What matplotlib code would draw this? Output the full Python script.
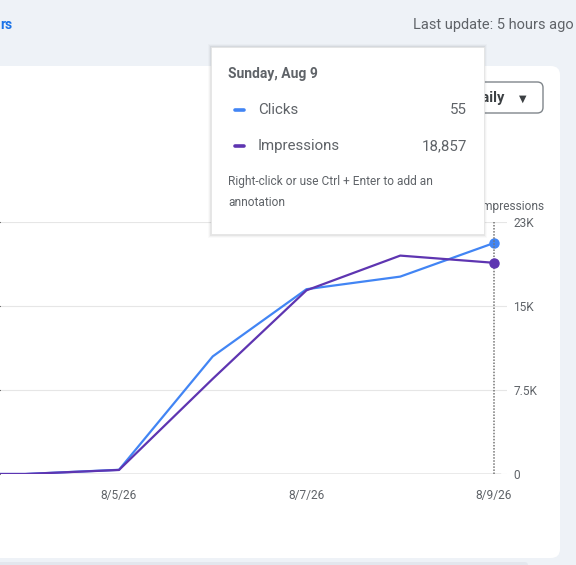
import matplotlib.pyplot as plt
from matplotlib.patches import FancyBboxPatch, Rectangle
from matplotlib.lines import Line2D

plt.rcParams['font.family'] = ['Roboto', 'DejaVu Sans']

# data
dates = ['8/3/26', '8/4/26', '8/5/26', '8/6/26', '8/7/26', '8/8/26', '8/9/26']
clicks = [0, 0, 1, 28, 44, 47, 55]
impressions = [0, 0, 360, 8500, 16400, 19500, 18857]
imp_ticks = [0, 7500, 15000, 22500]
imp_tick_labels = ['0', '7.5K', '15K', '23K']
click_ticks = [0, 20, 40, 60]
shown_dates = ['8/5/26', '8/7/26', '8/9/26']

W, H = 576, 565
BLUE = '#4285f4'
PURPLE = '#5e35b1'
GREY_TXT = '#5f6368'


def fx(x):
    return x / W


def fy(y):
    return 1 - y / H


fig = plt.figure(figsize=(W / 100, H / 100), dpi=100)
fig.patch.set_facecolor('#eef2f7')

# white card behind the chart
card = FancyBboxPatch((fx(-20), fy(558)), fx(580), fy(66) - fy(558),
                      boxstyle='round,pad=0,rounding_size=0.016',
                      transform=fig.transFigure, facecolor='white',
                      edgecolor='none', zorder=-2)
fig.patches.append(card)
# edge of the next card at the bottom
fig.patches.append(FancyBboxPatch((fx(-20), fy(568)), fx(548), fy(562) - fy(568),
                                  boxstyle='round,pad=0,rounding_size=0.006',
                                  transform=fig.transFigure, facecolor='#e3e7ee',
                                  edgecolor='none', zorder=-1))

# header texts
fig.text(fx(0), fy(25), 'rs', color='#1a73e8', fontsize=10, fontweight='bold',
         ha='left', va='center')
fig.text(fx(574), fy(25), 'Last update: 5 hours ago', color=GREY_TXT, fontsize=10.5,
         ha='right', va='center')

# chart axes
ax = fig.add_axes([fx(0), fy(474), fx(507), fy(222) - fy(474)])
ax.set_facecolor('none')
x = list(range(len(dates)))
ax.plot(x, clicks, color=BLUE, lw=1.6, solid_capstyle='round', zorder=3)
ax.plot(x[-1], clicks[-1], 'o', color=BLUE, ms=6.5, zorder=5)
ax.set_ylim(0, 60)
ax.set_yticks(click_ticks)
ax.yaxis.grid(True, color='#e6e6e6', lw=0.8)
ax.set_axisbelow(True)
ax.tick_params(axis='y', left=False, labelleft=False)
ax.axhline(0, color='#9e9e9e', lw=1, xmax=(500 / 507), zorder=2)

ax.set_xlim(0.7307, 6.1387)
ax.set_xticks([dates.index(d) for d in shown_dates])
ax.set_xticklabels(shown_dates)
ax.tick_params(axis='x', length=0, pad=11, labelsize=8.6, labelcolor=GREY_TXT)
for s in ax.spines.values():
    s.set_visible(False)

ax2 = ax.twinx()
ax2.plot(x, impressions, color=PURPLE, lw=1.6, solid_capstyle='round', zorder=3)
ax2.plot(x[-1], impressions[-1], 'o', color=PURPLE, ms=6.5, zorder=5)
ax2.axvline(x[-1], color='#757575', lw=1.1, ls=(0, (1, 1)), zorder=2)
ax2.set_ylim(0, 22500)
ax2.set_yticks(imp_ticks)
ax2.set_yticklabels(imp_tick_labels)
ax2.tick_params(axis='y', length=0, pad=4.5, labelsize=8.6, labelcolor=GREY_TXT)
for s in ax2.spines.values():
    s.set_visible(False)

fig.text(fx(544), fy(206), 'Impressions', color=GREY_TXT, fontsize=8.6,
         ha='right', va='center', zorder=3)

# "Daily" dropdown button
btn = FancyBboxPatch((fx(455), fy(113)), fx(88), fy(82) - fy(113),
                     boxstyle='round,pad=0,rounding_size=0.01',
                     transform=fig.transFigure, facecolor='white',
                     edgecolor='#80868b', lw=1, zorder=2)
fig.patches.append(btn)
fig.text(fx(472), fy(98), 'Daily', color='#3c4043', fontsize=10.5, fontweight='bold',
         ha='left', va='center', zorder=3)
fig.text(fx(523), fy(99), '\u25bc', color='#3c4043', fontsize=7,
         ha='center', va='center', family='DejaVu Sans', zorder=3)

# tooltip with a soft shadow
for off, a in [(3, 0.02), (2, 0.03), (1, 0.05)]:
    fig.patches.append(Rectangle((fx(211 - off), fy(234 + off + 1)), fx(273 + 2 * off),
                                 fy(47 - off) - fy(234 + off + 1),
                                 transform=fig.transFigure, facecolor='black',
                                 edgecolor='none', alpha=a, zorder=4))
fig.patches.append(Rectangle((fx(211), fy(234)), fx(273), fy(47) - fy(234),
                             transform=fig.transFigure, facecolor='white',
                             edgecolor='#e4e4e4', lw=0.6, zorder=5))
fig.text(fx(228), fy(74), 'Sunday, Aug 9', color=GREY_TXT, fontsize=10,
         fontweight='bold', ha='left', va='center', zorder=6)
rows = [('Clicks', '55', BLUE, 110), ('Impressions', '18,857', PURPLE, 146)]
for name, val, col, yy in rows:
    fig.lines.append(Line2D([fx(235), fx(244)], [fy(yy), fy(yy)], color=col, lw=2.6,
                            solid_capstyle='round', transform=fig.transFigure, zorder=6))
    fig.text(fx(258), fy(yy), name, color=GREY_TXT, fontsize=10.8,
             ha='left', va='center', zorder=6)
    fig.text(fx(467), fy(yy), val, color=GREY_TXT, fontsize=10.8,
             ha='right', va='center', zorder=6)
fig.text(fx(228), fy(182), 'Right-click or use Ctrl + Enter to add an', color=GREY_TXT,
         fontsize=8.6, ha='left', va='center', zorder=6)
fig.text(fx(228), fy(202), 'annotation', color=GREY_TXT, fontsize=8.6,
         ha='left', va='center', zorder=6)

fig.savefig('out.png', dpi=100, facecolor=fig.get_facecolor())
